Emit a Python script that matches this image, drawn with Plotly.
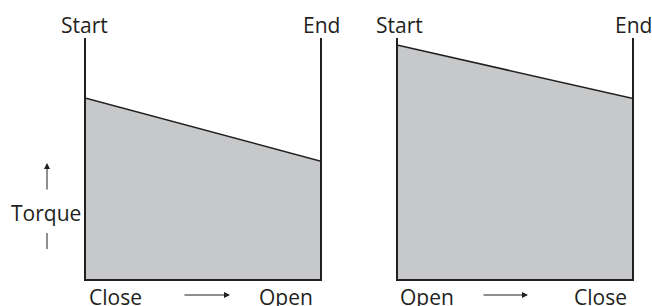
import plotly.graph_objects as go

# ---- data ----
travel = [0, 1]                      # stroke position: start -> end
start_torque = [75, 97]              # torque at start of stroke (% of axis height)
end_torque = [49, 75]                # torque at end of stroke
bottom_labels = [["Close", "Open"], ["Open", "Close"]]
top_labels = ["Start", "End"]
y_title = "Torque"

W, H = 652, 306
INK = "#231f20"
FILL = "#c7c8c9"
FONT = dict(family="Open Sans, Liberation Sans, sans-serif", size=21, color=INK)

def px(x):
    return x / W

def py(y):
    return 1 - y / H

panel_x = [(86, 320), (398, 632)]
y_dom = [py(279), py(38)]

fig = go.Figure()
for i in range(2):
    xa = "x" if i == 0 else "x2"
    ya = "y" if i == 0 else "y2"
    fig.add_trace(go.Scatter(
        x=travel, y=[start_torque[i], end_torque[i]],
        mode="lines", fill="tozeroy", fillcolor=FILL,
        line=dict(color=INK, width=1.5),
        xaxis=xa, yaxis=ya, showlegend=False, hoverinfo="skip"))

axis_common = dict(showgrid=False, zeroline=False, showticklabels=False, ticks="",
                   showline=True, linecolor=INK, linewidth=2, fixedrange=True)
layout = dict(
    width=W, height=H, margin=dict(l=0, r=0, t=0, b=0),
    paper_bgcolor="white", plot_bgcolor="white", showlegend=False,
    xaxis=dict(domain=[px(panel_x[0][0]), px(panel_x[0][1])], range=[0, 1],
               anchor="y", **axis_common),
    yaxis=dict(domain=y_dom, range=[0, 100], anchor="x", mirror=True, **axis_common),
    xaxis2=dict(domain=[px(panel_x[1][0]), px(panel_x[1][1])], range=[0, 1],
                anchor="y2", **axis_common),
    yaxis2=dict(domain=y_dom, range=[0, 100], anchor="x2", mirror=True, **axis_common),
)
fig.update_layout(**layout)

ann = []
for i, (x0, x1) in enumerate(panel_x):
    # top labels
    ann.append(dict(x=px(x0 - 2 if i == 0 else x0 + 1), y=py(25), text=top_labels[0]))
    ann.append(dict(x=px(x1 + 1), y=py(25), text=top_labels[1]))
    # bottom labels
    ann.append(dict(x=px(x0 + 29), y=py(297), text=bottom_labels[i][0]))
    ann.append(dict(x=px(x1 - 34 if i == 0 else x1 - 32), y=py(297), text=bottom_labels[i][1]))
for a in ann:
    a.update(xref="paper", yref="paper", showarrow=False, font=FONT,
             xanchor="center", yanchor="middle")

ann.append(dict(x=px(83), y=py(213), text=y_title, xref="paper", yref="paper",
                showarrow=False, font=FONT, xanchor="right", yanchor="middle"))

# arrows
for hx, tx in [(230, 183), (528, 482)]:
    ann.append(dict(x=px(hx), y=py(295), ax=tx - hx, ay=0, xref="paper", yref="paper",
                    text="", showarrow=True, arrowhead=2, arrowsize=1.2, arrowwidth=1,
                    arrowcolor=INK))
ann.append(dict(x=px(47), y=py(163), ax=0, ay=28, xref="paper", yref="paper",
                text="", showarrow=True, arrowhead=2, arrowsize=1.2, arrowwidth=1,
                arrowcolor=INK))
fig.update_layout(annotations=ann)

fig.add_shape(type="line", xref="paper", yref="paper",
              x0=px(47), x1=px(47), y0=py(233), y1=py(249),
              line=dict(color=INK, width=1))

fig.write_html("out.html", config={"displayModeBar": False},
               post_script="document.body.style.margin='0';document.body.style.overflow='hidden';")
